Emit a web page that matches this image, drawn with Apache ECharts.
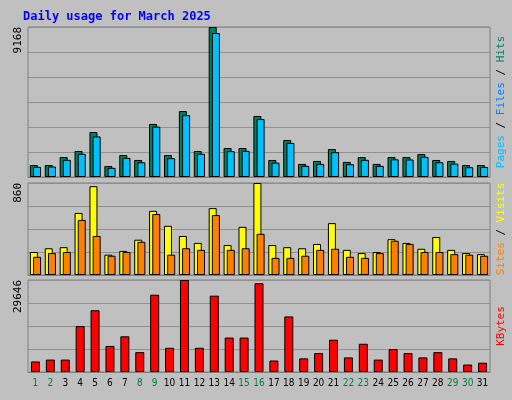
<!DOCTYPE html><html><head><meta charset="utf-8">
<script src="https://cdn.jsdelivr.net/npm/echarts@6/dist/echarts.min.js"></script>
<style>body{margin:0;background:#c0c0c0}#c{width:512px;height:400px}</style></head><body><div id="c"></div>
<script>
const days=[];for(let i=1;i<=31;i++)days.push(String(i));
const weekend=[1,2,8,9,15,16,22,23,29,30];
const hits=[730,730,1220,1590,2750,670,1340,1040,3240,1340,4030,1590,9168,1770,1770,3730,1040,2260,800,980,1710,920,1220,800,1220,1220,1400,1040,980,730,730];
const files=[620,640,1050,1420,2480,560,1170,900,3080,1150,3780,1420,8800,1580,1600,3540,880,2080,680,800,1520,780,1050,680,1080,1070,1230,900,820,600,610];
const visits=[215,250,260,580,830,190,225,330,600,460,365,300,625,280,450,860,280,260,250,290,485,235,205,215,335,300,245,355,235,205,195];
const sites=[170,205,215,515,365,180,215,310,570,190,250,235,560,235,250,385,160,160,180,235,245,170,160,205,320,290,215,215,195,190,180];
const kbytes=[3400,4000,4000,14800,19900,8400,11500,6400,24900,7800,29646,7800,24600,11100,11100,28600,3700,17900,4400,6100,10400,4700,9100,4000,7400,6100,4700,6400,4400,2400,3000];
const maxes=[9168,860,29646];
const ch=echarts.init(document.getElementById('c'));
const L=28,R=22;
const grids=[{top:27,height:150},{top:183,height:92},{top:280,height:92}].map(g=>({left:L,right:R,top:g.top,height:g.height,show:true,backgroundColor:'#c0c0c0',borderColor:'#808080',borderWidth:1}));
const xAxis=grids.map((g,i)=>({type:'category',gridIndex:i,data:days,axisTick:{show:false},axisLine:{lineStyle:{color:'#808080'}},
 axisLabel:{show:i===2,interval:0,fontSize:10,fontFamily:'DejaVu Sans Condensed',margin:6,formatter:v=>weekend.includes(+v)?'{w|'+v+'}':v,color:'#000',rich:{w:{color:'#008040',fontSize:10,fontFamily:'DejaVu Sans Condensed'}}}}));
const divs=[6,4,4];
const yAxis=maxes.map((m,i)=>({type:'value',gridIndex:i,min:0,max:m,interval:m/divs[i],splitLine:{lineStyle:{color:'#909090'}},
 axisLabel:{rotate:90,fontSize:11,fontFamily:'DejaVu Sans Mono',color:'#000',margin:4,formatter:v=>Math.abs(v-m)<0.5?String(m):'',verticalAlign:'bottom',align:'right'}}));
const bs=(name,data,color,gi,gap)=>({name,type:'bar',xAxisIndex:gi,yAxisIndex:gi,data,barWidth:8,barGap:gap,
 itemStyle:{color,borderColor:'#000',borderWidth:1},animation:false});
const f=c=>({fill:c,fontFamily:'DejaVu Sans Mono',fontSize:11});
ch.setOption({backgroundColor:'#c0c0c0',animation:false,
 title:{text:'Daily usage for March 2025',left:18,top:6,textStyle:{color:'#0000ff',fontSize:12,fontWeight:'bold',fontFamily:'DejaVu Sans Mono'}},
 grid:grids,xAxis,yAxis,
 series:[bs('Hits',hits,'#008060',0,'-60%'),bs('Files',files,'#00c0ff',0,'-60%'),
  bs('Visits',visits,'#ffff00',1,'-60%'),bs('Sites',sites,'#ff8000',1,'-60%'),
  {name:'KBytes',type:'bar',xAxisIndex:2,yAxisIndex:2,data:kbytes,barWidth:9,itemStyle:{color:'#ff0000',borderColor:'#000',borderWidth:1}}],
 graphic:[
  {type:'text',x:501,y:102,rotation:Math.PI/2,style:{text:'{p|Pages}{s| / }{f|Files}{s| / }{h|Hits}',align:'center',verticalAlign:'middle',rich:{p:f('#00c0ff'),f:f('#0080ff'),h:f('#008060'),s:f('#000')}}},
  {type:'text',x:501,y:229,rotation:Math.PI/2,style:{text:'{a|Sites}{s| / }{b|Visits}',align:'center',verticalAlign:'middle',rich:{a:f('#ff8000'),b:f('#ffff00'),s:f('#000')}}},
  {type:'text',x:501,y:326,rotation:Math.PI/2,style:Object.assign({text:'KBytes',align:'center',verticalAlign:'middle'},f('#ff0000'))}
 ]});
</script></body></html>
